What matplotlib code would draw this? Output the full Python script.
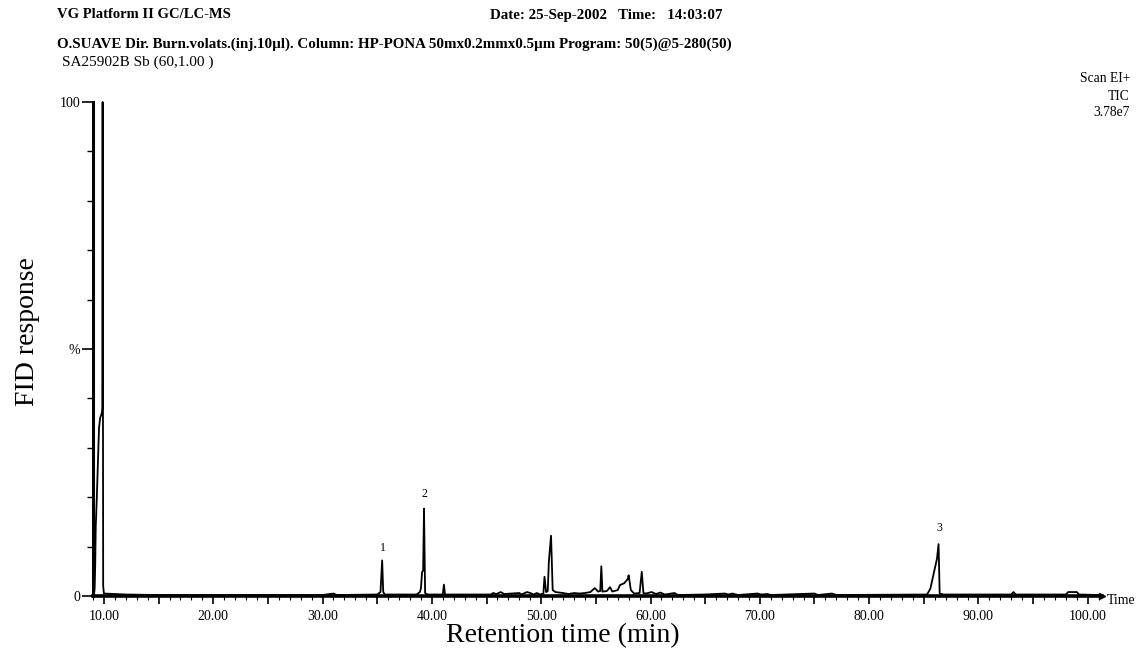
import matplotlib
matplotlib.use("Agg")
import matplotlib.pyplot as plt
from matplotlib.ticker import MultipleLocator, FuncFormatter

plt.rcParams['font.family'] = ['Liberation Serif', 'DejaVu Serif']

# retention time (min) and TIC response (%)
times = [9.0, 9.1, 9.15, 9.2, 9.25, 9.35, 9.45, 9.55, 9.65, 9.8, 9.85, 9.88, 9.93, 10.0,
         12.0, 15.0, 20.0, 25.0, 30.0, 31.0, 31.3,
         35.0, 35.3, 35.45, 35.55, 35.7,
         38.6, 38.9, 39.0, 39.1, 39.2, 39.28, 39.38, 39.6,
         41.0, 41.1, 41.2,
         45.4, 45.6, 45.9, 46.3, 46.6, 48.0, 48.2, 48.7, 49.0, 49.3, 49.6, 49.9,
         50.2, 50.3, 50.45, 50.6, 50.7, 50.9, 51.05, 51.3,
         52.0, 52.5, 53.0, 53.5, 54.0, 54.5, 54.9, 55.2, 55.4, 55.5, 55.6,
         56.0, 56.3, 56.5, 57.0, 57.2, 57.6, 57.9, 58.0, 58.2, 58.5,
         59.0, 59.2, 59.35, 59.6, 60.1, 60.5, 60.9, 61.3, 62.2, 62.5,
         65.0, 66.8, 67.1, 67.5, 68.0, 69.8, 70.1, 70.7, 71.0,
         75.0, 75.3, 76.6, 77.0,
         85.3, 85.6, 85.9, 86.2, 86.35, 86.45, 86.8,
         93.0, 93.2, 93.4, 98.0, 98.2, 99.0, 99.2, 101.0]
response = [0.3, 0.5, 1.5, 6.0, 14.0, 20.0, 27.0, 34.0, 36.0, 37.0, 38.0, 100.0, 2.0, 0.5,
            0.3, 0.2, 0.2, 0.2, 0.2, 0.5, 0.2,
            0.3, 0.8, 7.2, 0.8, 0.3,
            0.3, 0.8, 1.6, 4.8, 5.2, 17.7, 0.6, 0.3,
            0.3, 2.3, 0.3,
            0.3, 0.6, 0.4, 0.8, 0.4, 0.6, 0.3, 0.8, 0.6, 0.3, 0.6, 0.3,
            0.5, 3.9, 0.8, 1.0, 7.0, 12.2, 1.2, 0.8,
            0.6, 0.4, 0.6, 0.5, 0.6, 0.8, 1.6, 0.9, 1.0, 6.0, 0.9,
            1.0, 1.8, 0.9, 1.2, 2.2, 2.6, 3.4, 4.2, 1.2, 0.5,
            0.6, 4.9, 0.6, 0.5, 0.8, 0.4, 0.7, 0.3, 0.6, 0.2,
            0.3, 0.5, 0.3, 0.5, 0.2, 0.5, 0.3, 0.4, 0.2,
            0.5, 0.2, 0.5, 0.2,
            0.3, 1.5, 4.5, 7.5, 10.5, 0.5, 0.3,
            0.3, 0.8, 0.3, 0.3, 0.8, 0.8, 0.3, 0.2]

peak_ids = ['1', '2', '3']
peak_times = [35.5, 39.3, 86.4]
peak_label_y = [9.7, 20.6, 13.8]


def xfmt(v, pos):
    return '%.2f' % v if round(v) % 10 == 0 else ''


def yfmt(v, pos):
    return {0: '0', 50: '%', 100: '100'}.get(int(round(v)), '')


fig = plt.figure(figsize=(11.4, 6.6), dpi=100)
ax = fig.add_axes([93 / 1140, 1 - 596 / 660, (1102 - 93) / 1140, (596 - 102) / 660])

ax.plot(times, response, color='black', lw=1.3, clip_on=False)

for lab, t, y in zip(peak_ids, peak_times, peak_label_y):
    ax.text(t, y, lab, ha='center', va='center', fontsize=8.5)

ax.set_xlim(9.0, 101.3)
ax.set_ylim(0, 100)
for s in ['top', 'right']:
    ax.spines[s].set_visible(False)
ax.spines['left'].set_linewidth(2.2)
ax.spines['bottom'].set_linewidth(2.6)
ax.plot(1, 0, '>k', ms=5, transform=ax.get_yaxis_transform(), clip_on=False)

ax.xaxis.set_major_locator(MultipleLocator(5))
ax.xaxis.set_minor_locator(MultipleLocator(1))
ax.xaxis.set_major_formatter(FuncFormatter(xfmt))
ax.yaxis.set_major_locator(MultipleLocator(50))
ax.yaxis.set_minor_locator(MultipleLocator(10))
ax.yaxis.set_major_formatter(FuncFormatter(yfmt))
ax.tick_params(axis='x', which='major', length=6, width=1.2, labelsize=10, pad=4)
ax.tick_params(axis='x', which='minor', length=3, width=0.8)
ax.tick_params(axis='y', which='major', length=8, width=1.2, labelsize=10, pad=1)
ax.tick_params(axis='y', which='minor', length=4, width=1.0)

fig.text(1107 / 1140, 1 - 601 / 660, 'Time', fontsize=10, va='center', ha='left')
fig.text(563 / 1140, 1 - 636 / 660, 'Retention time (min)', fontsize=20,
         ha='center', va='center')
fig.text(28 / 1140, 1 - 332 / 660, 'FID response', fontsize=20, rotation=90,
         ha='center', va='center')

# header lines
fig.text(57 / 1140, 1 - 15 / 660, 'VG Platform II GC/LC-MS', fontsize=10.5,
         weight='bold', va='center')
fig.text(490 / 1140, 1 - 15 / 660, 'Date: 25-Sep-2002   Time:   14:03:07',
         fontsize=10.8, weight='bold', va='center')
fig.text(57 / 1140, 1 - 44 / 660,
         'O.SUAVE Dir. Burn.volats.(inj.10µl). Column: HP-PONA 50mx0.2mmx0.5µm '
         'Program: 50(5)@5-280(50)', fontsize=10.8, weight='bold', va='center')
fig.text(62 / 1140, 1 - 62 / 660, 'SA25902B Sb (60,1.00 )', fontsize=11,
         va='center')
fig.text(1130 / 1140, 1 - 78 / 660, 'Scan EI+', fontsize=9.8, ha='right', va='center')
fig.text(1130 / 1140, 1 - 96 / 660, 'TIC', fontsize=9.8, ha='right', va='center')
fig.text(1130 / 1140, 1 - 113 / 660, '3.78e7', fontsize=9.8, ha='right', va='center')

fig.savefig('out.png', dpi=100)
